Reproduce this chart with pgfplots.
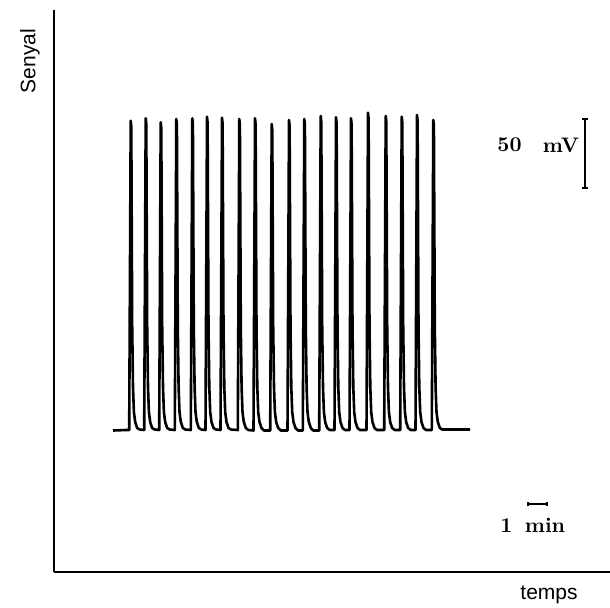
\documentclass[border=0pt]{standalone}
\usepackage{fontspec}
\usepackage{pgfplots}
\pgfplotsset{compat=1.18}
\newfontfamily\labelfont{Liberation Sans}
\begin{document}
\begin{tikzpicture}
\useasboundingbox (0,0) rectangle (305pt,303.5pt);
\begin{axis}[
  at={(27pt,17.5pt)}, anchor=south west,
  scale only axis, width=278pt, height=281pt,
  xmin=54, xmax=610, ymin=35, ymax=597,
  axis lines=left, axis line style={-, line width=0.8pt},
  xtick=\empty, ytick=\empty,
  clip=false,
]
\addplot[black, line width=1.3pt, line join=round] coordinates {
(113,176.5) (126,177)
(129.2,177) (130.7,486.3) (131.3,480.3) (132.2,280) (133.0,220) (133.9,195) (135.2,185) (137.2,179) (139.7,177.5)
(144.2,177) (145.7,488.7) (146.3,482.7) (147.2,280) (148.0,220) (148.9,195) (150.2,185) (152.2,179) (154.7,177.5)
(159.2,177) (160.7,484.7) (161.3,478.7) (162.2,280) (163.0,220) (163.9,195) (165.2,185) (167.2,179) (169.7,177.5)
(174.8,177) (176.3,488.0) (176.9,482.0) (177.8,280) (178.6,220) (179.5,195) (180.8,185) (182.8,179) (185.3,177.5)
(190.8,177) (192.3,488.7) (192.9,482.7) (193.8,280) (194.6,220) (195.5,195) (196.8,185) (198.8,179) (201.3,177.5)
(205.5,177) (207.0,490.3) (207.6,484.3) (208.5,280) (209.3,220) (210.2,195) (211.5,185) (213.5,179) (216.0,177.5)
(220.5,177) (222.0,489.3) (222.6,483.3) (223.5,280) (224.3,220) (225.2,195) (226.5,185) (228.5,179) (231.0,177.5)
(237.8,177) (239.3,488.0) (239.9,482.0) (240.8,280) (241.6,220) (242.5,195) (243.8,185) (245.8,179) (248.3,177)
(253.5,176.5) (255.0,488.7) (255.6,482.7) (256.5,280) (257.3,220) (258.2,195) (259.5,185) (261.5,179) (264.0,176.5)
(270.2,176.5) (271.7,483.0) (272.3,477.0) (273.2,280) (274.0,220) (274.9,195) (276.2,185) (278.2,179) (280.7,176.5)
(287.5,176.5) (289.0,487.0) (289.6,481.0) (290.5,280) (291.3,220) (292.2,195) (293.5,185) (295.5,179) (298.0,176.5)
(302.8,176.5) (304.3,488.0) (304.9,482.0) (305.8,280) (306.6,220) (307.5,195) (308.8,185) (310.8,179) (313.3,176.5)
(319.2,176.5) (320.7,491.0) (321.3,485.0) (322.2,280) (323.0,220) (323.9,195) (325.2,185) (327.2,179) (329.7,177)
(334.5,177) (336.0,489.7) (336.6,483.7) (337.5,280) (338.3,220) (339.2,195) (340.5,185) (342.5,179) (345.0,177)
(349.5,177) (351.0,488.7) (351.6,482.7) (352.5,280) (353.3,220) (354.2,195) (355.5,185) (357.5,179) (360.0,177)
(366.5,177) (368.0,494.3) (368.6,488.3) (369.5,280) (370.3,220) (371.2,195) (372.5,185) (374.5,179) (377.0,177)
(384.2,177) (385.7,491.0) (386.3,485.0) (387.2,280) (388.0,220) (388.9,195) (390.2,185) (392.2,179) (394.7,177)
(400.2,177) (401.7,490.3) (402.3,484.3) (403.2,280) (404.0,220) (404.9,195) (406.2,185) (408.2,179) (410.7,177)
(415.5,177) (417.0,492.0) (417.6,486.0) (418.5,280) (419.3,220) (420.2,195) (421.5,185) (423.5,179) (426.0,177)
(431.8,177) (433.3,487.0) (433.9,481.0) (434.8,280) (435.6,220) (436.5,195) (437.8,185) (439.8,179) (442.3,177.5)
(470,177.5)
};
% 50 mV scale bar
\addplot[black, line width=0.8pt] coordinates {(585,488) (585,419)};
\addplot[black, line width=0.6pt] coordinates {(582,488) (588,488)};
\addplot[black, line width=0.6pt] coordinates {(582,419) (588,419)};
% 1 min scale bar
\addplot[black, line width=0.6pt] coordinates {(528,103) (547,103)};
\addplot[black, line width=0.6pt] coordinates {(528,101) (528,105)};
\addplot[black, line width=0.6pt] coordinates {(547,101) (547,105)};
\node[font=\fontsize{10.5}{12}\selectfont\bfseries] at (axis cs:509.5,462) {50};
\node[font=\fontsize{10.5}{12}\selectfont\bfseries] at (axis cs:561,462) {mV};
\node[font=\fontsize{10.5}{12}\selectfont\bfseries] at (axis cs:506.5,81) {1};
\node[font=\fontsize{10.5}{12}\selectfont\bfseries] at (axis cs:545,82) {min};
\node[font=\labelfont\fontsize{10.5}{12}\selectfont, rotate=90] at (axis cs:30,546) {Senyal};
\node[font=\labelfont\fontsize{10.5}{12}\selectfont] at (axis cs:549,12) {temps};
\end{axis}
\end{tikzpicture}
\end{document}
